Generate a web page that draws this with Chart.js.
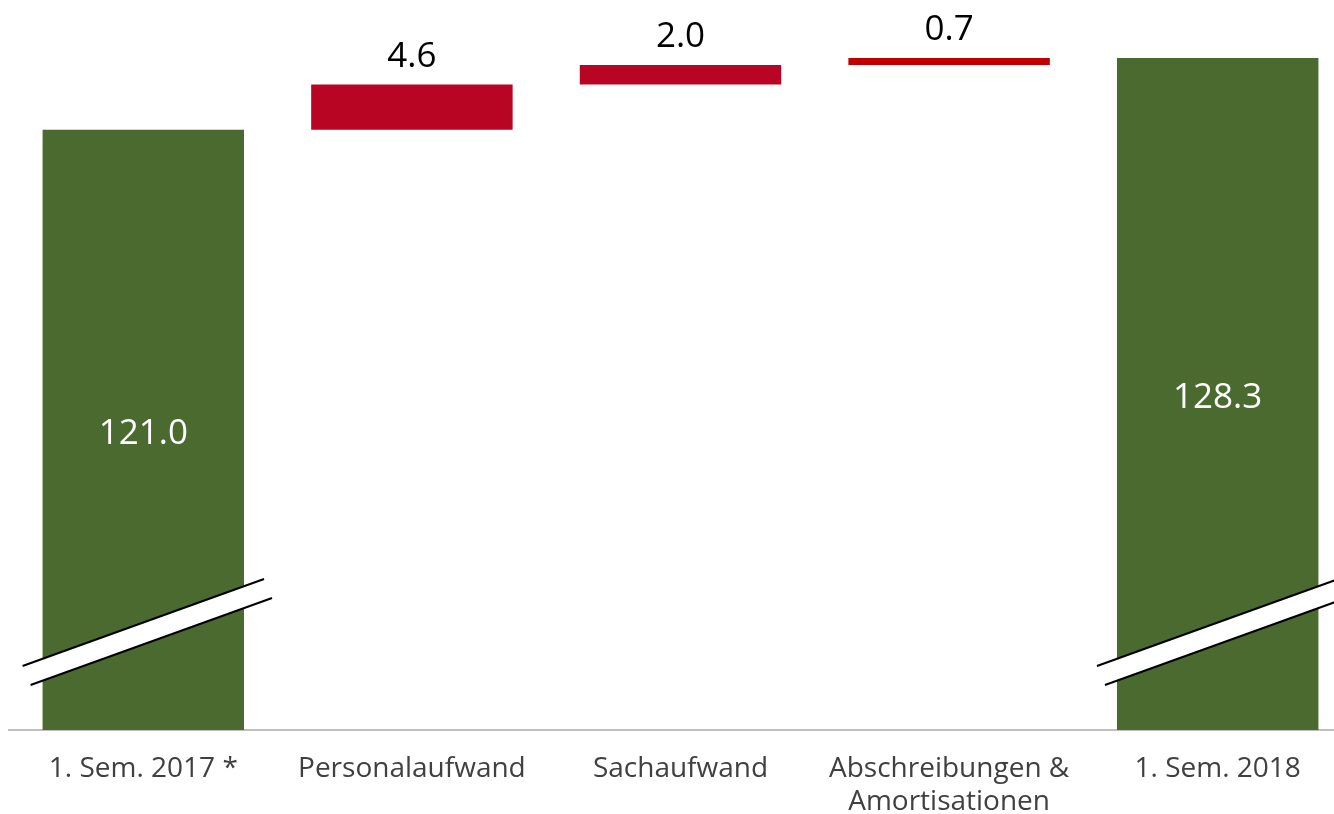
<!DOCTYPE html>
<html>
<head>
<meta charset="utf-8">
<script src="https://cdn.jsdelivr.net/npm/chart.js@4.4.0/dist/chart.umd.min.js"></script>
<style>
  html, body { margin: 0; padding: 0; background: #fff; overflow: hidden; }
  #wrap { width: 1352px; height: 814px; position: relative; }
</style>
</head>
<body>
<div id="wrap"><canvas id="waterfall"></canvas></div>
<script>
const categories = ['1. Sem. 2017 *', 'Personalaufwand', 'Sachaufwand', ['Abschreibungen &', 'Amortisationen'], '1. Sem. 2018'];
const totals = [121.0, null, null, null, 128.3];
const changes = [null, 4.6, 2.0, 0.7, null];
const changeColors = [null, '#b70523', '#b70523', '#c00000', null];
const yMin = 60;
const yMax = 134.2;

// floating ranges for the cost steps, starting from the first total
let running = totals[0];
const changeRanges = changes.map(v => {
  if (v === null) return null;
  const r = [running, running + v];
  running += v;
  return r;
});

const valueFont = '35px "Open Sans", sans-serif';

const barLabels = {
  id: 'barLabels',
  afterDatasetsDraw(chart) {
    const { ctx, chartArea } = chart;
    ctx.save();
    ctx.font = valueFont;
    ctx.textAlign = 'center';
    ctx.textBaseline = 'middle';
    chart.getDatasetMeta(0).data.forEach((bar, i) => {
      if (totals[i] === null) return;
      ctx.fillStyle = '#ffffff';
      ctx.fillText(totals[i].toFixed(1), bar.x, (bar.y + chartArea.bottom) / 2 + 4);
    });
    chart.getDatasetMeta(1).data.forEach((bar, i) => {
      if (changes[i] === null) return;
      ctx.fillStyle = '#000000';
      ctx.fillText(changes[i].toFixed(1), bar.x, Math.min(bar.y, bar.base) - 28);
    });
    ctx.restore();
  }
};

// axis break marks across the total bars
const breakMarks = {
  id: 'breakMarks',
  afterDatasetsDraw(chart) {
    const { ctx, chartArea } = chart;
    ctx.save();
    chart.getDatasetMeta(0).data.forEach((bar, i) => {
      if (totals[i] === null) return;
      const half = bar.width / 2;
      const base = chartArea.bottom;
      const x1 = bar.x - half - 20;
      const x2 = bar.x + half + 20;
      const yL = base - 64;
      const yR = base - 151;
      const dx = 8, dy = 19;
      ctx.beginPath();
      ctx.moveTo(x1, yL);
      ctx.lineTo(x2, yR);
      ctx.lineTo(x2 + dx, yR + dy);
      ctx.lineTo(x1 + dx, yL + dy);
      ctx.closePath();
      ctx.fillStyle = '#ffffff';
      ctx.fill();
      ctx.strokeStyle = '#000000';
      ctx.lineWidth = 2;
      ctx.beginPath();
      ctx.moveTo(x1, yL);
      ctx.lineTo(x2, yR);
      ctx.moveTo(x1 + dx, yL + dy);
      ctx.lineTo(x2 + dx, yR + dy);
      ctx.stroke();
    });
    ctx.restore();
  }
};

new Chart(document.getElementById('waterfall'), {
  type: 'bar',
  data: {
    labels: categories,
    datasets: [
      {
        data: totals,
        backgroundColor: '#4a6a2f',
        grouped: false,
        categoryPercentage: 1,
        barPercentage: 0.75
      },
      {
        data: changeRanges,
        backgroundColor: changeColors,
        grouped: false,
        categoryPercentage: 1,
        barPercentage: 0.75
      }
    ]
  },
  options: {
    responsive: true,
    maintainAspectRatio: false,
    animation: false,
    layout: { padding: { left: 9, right: 0, top: 0, bottom: 0 } },
    plugins: {
      legend: { display: false },
      tooltip: { enabled: false }
    },
    scales: {
      x: {
        grid: { display: false },
        border: { color: '#bfbfbf', width: 2 },
        ticks: {
          color: '#404040',
          font: { family: '"Open Sans", sans-serif', size: 28, lineHeight: 1.2 },
          padding: 14,
          maxRotation: 0,
          autoSkip: false
        },
        afterFit(scale) { scale.height = 84; }
      },
      y: {
        display: false,
        min: yMin,
        max: yMax
      }
    }
  },
  plugins: [breakMarks, barLabels]
});
</script>
</body>
</html>
